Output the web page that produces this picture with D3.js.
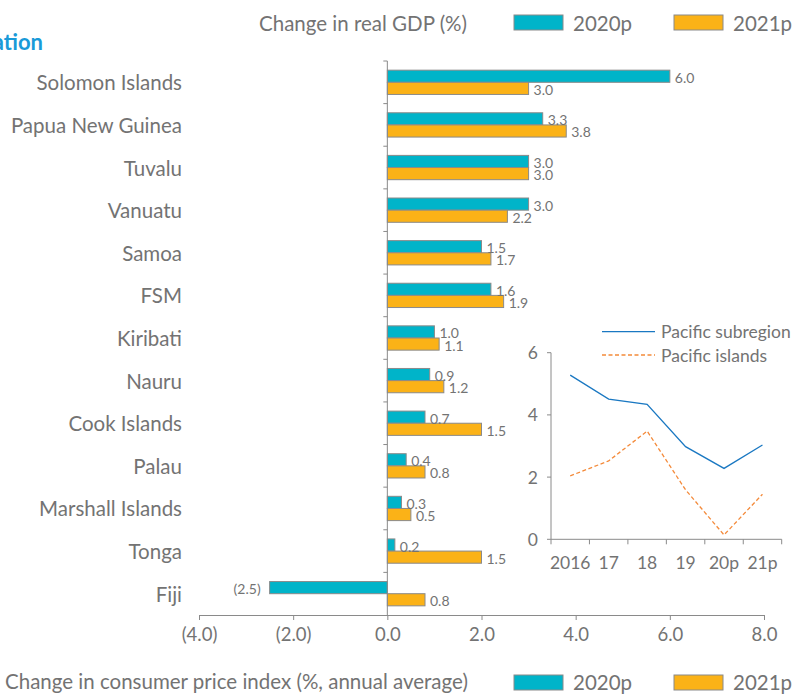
<!DOCTYPE html>
<html><head><meta charset="utf-8">
<script src="https://cdn.jsdelivr.net/npm/d3@7"></script>
<style>body{margin:0;background:#fff;} text{font-family:Lato,"Noto Sans",sans-serif;}</style>
</head><body>
<svg id="c" width="793" height="694"></svg>
<script>
const categories = ["Solomon Islands","Papua New Guinea","Tuvalu","Vanuatu","Samoa","FSM","Kiribati","Nauru","Cook Islands","Palau","Marshall Islands","Tonga","Fiji"];
const series = ["2020p","2021p"];
const values2020 = [6.0,3.3,3.0,3.0,2.0,2.2,1.0,0.9,0.8,0.4,0.3,0.16,-2.5];
const values2021 = [3.0,3.8,3.0,2.55,2.2,2.47,1.1,1.2,2.0,0.8,0.5,2.0,0.8];
const labels2020 = ["6.0","3.3","3.0","3.0","1.5","1.6","1.0","0.9","0.7","0.4","0.3","0.2","(2.5)"];
const labels2021 = ["3.0","3.8","3.0","2.2","1.7","1.9","1.1","1.2","1.5","0.8","0.5","1.5","0.8"];
const xTicks = [-4,-2,0,2,4,6,8];
const xTickLabels = ["(4.0)","(2.0)","0.0","2.0","4.0","6.0","8.0"];
const insetYears = ["2016","17","18","19","20p","21p"];
const pacificSubregion = [5.28,4.51,4.34,2.98,2.28,3.03];
const pacificIslands = [2.04,2.52,3.48,1.59,0.14,1.45];
const insetYTicks = [0,2,4,6];
const lineSeries = ["Pacific subregion","Pacific islands"];

const TEXT = "#737373", AXIS = "#8a8a8a";
const colors = {"2020p":"#00b4c9","2021p":"#fbb217"};
const svg = d3.select("#c");

const x = d3.scaleLinear().domain([-4,8]).range([199,764]);
const y = d3.scaleBand().domain(categories).range([61,615]).paddingInner(0.43).paddingOuter(0.215);
const ySub = d3.scaleBand().domain(series).range([0,y.bandwidth()]);

// bars
const data = categories.map((c,i)=>({c, v:[{s:"2020p",v:values2020[i],l:labels2020[i]},{s:"2021p",v:values2021[i],l:labels2021[i]}]}));
const g = svg.append("g");
const grp = g.selectAll("g.cat").data(data).join("g").attr("transform",d=>`translate(0,${y(d.c)})`);
grp.selectAll("rect").data(d=>d.v).join("rect")
  .attr("x",d=>x(Math.min(0,d.v))).attr("width",d=>Math.abs(x(d.v)-x(0)))
  .attr("y",d=>ySub(d.s)).attr("height",ySub.bandwidth())
  .attr("fill",d=>colors[d.s]).attr("stroke",AXIS).attr("stroke-width",1);
grp.selectAll("text").data(d=>d.v).join("text")
  .attr("x",d=>d.v<0 ? x(d.v)-9 : x(d.v)+5)
  .attr("text-anchor",d=>d.v<0?"end":"start")
  .attr("y",d=>ySub(d.s)+ySub.bandwidth()/2+1)
  .attr("dominant-baseline","central")
  .attr("font-size",14).attr("fill",TEXT).text(d=>d.l);

// left axis
const step = y.step();
svg.append("line").attr("x1",x(0)).attr("x2",x(0)).attr("y1",61).attr("y2",615).attr("stroke",AXIS);
svg.selectAll("line.ct").data(d3.range(categories.length)).join("line")
  .attr("x1",x(0)-4).attr("x2",x(0)).attr("y1",i=>61+i*step).attr("y2",i=>61+i*step).attr("stroke",AXIS);
svg.selectAll("text.cat").data(categories).join("text")
  .attr("x",182).attr("y",d=>y(d)+y.bandwidth()/2).attr("text-anchor","end")
  .attr("dominant-baseline","central").attr("font-size",20.5).attr("fill",TEXT).text(d=>d);

// bottom axis
const xa = svg.append("g").attr("transform","translate(0,615)")
  .call(d3.axisBottom(x).tickValues(xTicks).tickSize(5).tickFormat((d,i)=>xTickLabels[i]));
xa.select(".domain").attr("stroke",AXIS);
xa.selectAll(".tick line").attr("stroke",AXIS);
xa.selectAll(".tick text").attr("fill",TEXT).attr("font-size",18.5).attr("font-family","Lato").attr("dy","0.95em");

// titles & legends
svg.append("text").attr("x",43).attr("y",50).attr("text-anchor","end").attr("font-size",22).style("font-weight","bold").attr("fill","#1a9ad8").text("Inflation");
svg.append("text").attr("x",259).attr("y",31).attr("font-size",20.5).attr("fill",TEXT).text("Change in real GDP (%)");
svg.append("text").attr("x",5).attr("y",689).attr("font-size",20.5).attr("fill",TEXT).text("Change in consumer price index (%, annual average)");
function legend(yTop, yBase){
  const lx = [514,674];
  series.forEach((s,i)=>{
    svg.append("rect").attr("x",lx[i]).attr("y",yTop).attr("width",49).attr("height",15).attr("fill",colors[s]).attr("stroke",AXIS);
    svg.append("text").attr("x",lx[i]+59).attr("y",yBase).attr("font-size",20.5).attr("fill",TEXT).text(s);
  });
}
legend(15,31);
legend(675,690);

// inset line chart
const ix = d3.scaleBand().domain(insetYears).range([551,781.7]);
const iy = d3.scaleLinear().domain([0,6]).range([539.3,352.7]);
const ins = svg.append("g");
ins.append("line").attr("x1",551).attr("x2",551).attr("y1",iy(6)).attr("y2",iy(0)).attr("stroke",AXIS);
ins.append("line").attr("x1",551).attr("x2",781.7).attr("y1",iy(0)).attr("y2",iy(0)).attr("stroke",AXIS);
ins.selectAll("line.yt").data(insetYTicks).join("line").attr("x1",547).attr("x2",551).attr("y1",d=>iy(d)).attr("y2",d=>iy(d)).attr("stroke",AXIS);
ins.selectAll("text.yt").data(insetYTicks).join("text").attr("x",538).attr("y",d=>iy(d)).attr("text-anchor","end")
  .attr("dominant-baseline","central").attr("font-size",17.5).attr("fill",TEXT).text(d=>d);
const bounds = insetYears.map(d=>ix(d)).concat([781.7]);
ins.selectAll("line.xt").data(bounds).join("line").attr("x1",d=>d).attr("x2",d=>d).attr("y1",iy(0)).attr("y2",iy(0)+5).attr("stroke",AXIS);
ins.selectAll("text.xt").data(insetYears).join("text").attr("x",d=>ix(d)+ix.bandwidth()/2).attr("y",562)
  .attr("text-anchor","middle").attr("dominant-baseline","central").attr("font-size",17.5).attr("fill",TEXT).text(d=>d);
const line = d3.line().x((d,i)=>ix(insetYears[i])+ix.bandwidth()/2).y(d=>iy(d));
ins.append("path").attr("d",line(pacificSubregion)).attr("fill","none").attr("stroke","#1a78c2").attr("stroke-width",1.3);
ins.append("path").attr("d",line(pacificIslands)).attr("fill","none").attr("stroke","#f48a3a").attr("stroke-width",1.3).attr("stroke-dasharray","4,2.5");
const ly = [331.7,355];
lineSeries.forEach((s,i)=>{
  ins.append("line").attr("x1",602).attr("x2",655).attr("y1",ly[i]).attr("y2",ly[i])
    .attr("stroke",i?"#f48a3a":"#1a78c2").attr("stroke-width",1.3).attr("stroke-dasharray",i?"4,2.5":null);
  ins.append("text").attr("x",661).attr("y",ly[i]).attr("dominant-baseline","central").attr("font-size",17.5).attr("fill",TEXT).text(s);
});
</script>
</body></html>
